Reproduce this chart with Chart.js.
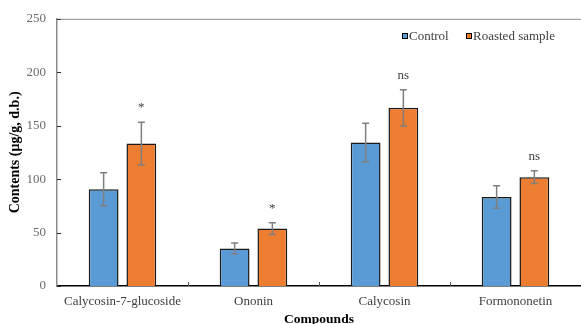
<!DOCTYPE html>
<html><head><meta charset="utf-8">
<script src="https://cdn.jsdelivr.net/npm/chart.js@4/dist/chart.umd.min.js"></script>
<style>html,body{margin:0;padding:0;background:#fff}#w{width:581px;height:324px}</style>
</head><body><div id="w"><canvas id="c"></canvas></div>
<script>
const categories = ['Calycosin-7-glucoside','Ononin','Calycosin','Formononetin'];
const controlValues = [90.5, 35.2, 134.3, 83.3];
const controlErrors = [15.5, 5.0, 18.0, 10.5];
const roastedValues = [133.3, 53.7, 166.7, 101.8];
const roastedErrors = [20.0, 5.5, 17.0, 6.0];
const roastedMarks = ['*', '*', 'ns', 'ns'];
const yTicks = [0, 50, 100, 150, 200, 250];

const FONT = "'Liberation Serif','Times New Roman',serif";

const errorPlugin = {
  id: 'errs',
  afterDatasetsDraw(chart) {
    const ctx = chart.ctx, y = chart.scales.y;
    const errs = [controlErrors, roastedErrors];
    chart.data.datasets.forEach((ds, di) => {
      const meta = chart.getDatasetMeta(di);
      meta.data.forEach((bar, i) => {
        const v = ds.data[i], e = errs[di][i];
        const yt = y.getPixelForValue(v + e), yb = y.getPixelForValue(v - e);
        ctx.save();
        ctx.strokeStyle = '#7f7f7f'; ctx.lineWidth = 1.5;
        ctx.beginPath();
        ctx.moveTo(bar.x, yt); ctx.lineTo(bar.x, yb);
        ctx.moveTo(bar.x - 3.5, yt); ctx.lineTo(bar.x + 3.5, yt);
        ctx.moveTo(bar.x - 3.5, yb); ctx.lineTo(bar.x + 3.5, yb);
        ctx.stroke();
        if (di === 1) {
          ctx.fillStyle = '#404040';
          ctx.font = '13px ' + FONT;
          ctx.textAlign = 'center'; ctx.textBaseline = 'alphabetic';
          const m = roastedMarks[i];
          ctx.fillText(m, bar.x, yt - (m === '*' ? 11 : 11));
        }
        ctx.restore();
      });
    });
  }
};

const framePlugin = {
  id: 'frame',
  afterDraw(chart) {
    const ctx = chart.ctx, a = chart.chartArea, y = chart.scales.y, x = chart.scales.x;
    ctx.save();
    ctx.strokeStyle = '#8c8c8c'; ctx.lineWidth = 1;
    ctx.beginPath();
    ctx.moveTo(a.left, a.top + 0.5); ctx.lineTo(a.right, a.top + 0.5);
    ctx.stroke();
    ctx.strokeStyle = '#333';
    ctx.beginPath();
    yTicks.forEach(t => {
      const py = Math.round(y.getPixelForValue(t)) + 0.5;
      ctx.moveTo(a.left, py); ctx.lineTo(a.left + 4, py);
    });
    ctx.stroke();
    ctx.strokeStyle = '#555';
    ctx.beginPath();
    for (let i = 1; i < categories.length; i++) {
      const px = Math.round((x.getPixelForValue(i - 1) + x.getPixelForValue(i)) / 2) + 0.5;
      ctx.moveTo(px, a.bottom); ctx.lineTo(px, a.bottom - 4);
    }
    ctx.stroke();
    ctx.font = '13px ' + FONT;
    ctx.textBaseline = 'middle'; ctx.textAlign = 'left';
    const items = [[chart.data.datasets[0], 402], [chart.data.datasets[1], 466]];
    items.forEach(([ds, lx]) => {
      ctx.fillStyle = ds.backgroundColor;
      ctx.fillRect(lx, 33, 6, 6);
      ctx.strokeStyle = '#000'; ctx.lineWidth = 1;
      ctx.strokeRect(lx + 0.5, 33.5, 5, 5);
      ctx.fillStyle = '#404040';
      ctx.fillText(ds.label, lx + 7, 36.5);
    });
    ctx.restore();
  }
};

new Chart(document.getElementById('c'), {
  type: 'bar',
  data: {
    labels: categories,
    datasets: [
      { label: 'Control', data: controlValues, backgroundColor: '#5b9bd5', borderColor: '#1a1a1a', borderWidth: 1.5, borderSkipped: 'bottom', categoryPercentage: 0.576, barPercentage: 0.79 },
      { label: 'Roasted sample', data: roastedValues, backgroundColor: '#ed7d31', borderColor: '#1a1a1a', borderWidth: 1.5, borderSkipped: 'bottom', categoryPercentage: 0.576, barPercentage: 0.79 }
    ]
  },
  options: {
    responsive: true, maintainAspectRatio: false, animation: false,
    layout: { padding: { top: 16, right: 0, bottom: 0, left: 0 } },
    plugins: { legend: { display: false }, tooltip: { enabled: false } },
    scales: {
      x: {
        grid: { display: false, drawTicks: false },
        border: { display: true, color: '#000', width: 1.5 },
        ticks: { color: '#404040', font: { family: FONT, size: 13 }, padding: 8, maxRotation: 0, autoSkip: false },
        title: { display: true, text: 'Compounds', color: '#000', font: { family: FONT, size: 13.5, weight: 'bold' }, padding: { top: 0, bottom: -4 } },
        afterFit(s) { s.height = 38; }
      },
      y: {
        min: 0, max: 250,
        afterBuildTicks(s) { s.ticks = yTicks.map(v => ({ value: v })); },
        grid: { display: false, drawTicks: false },
        border: { display: true, color: '#8c8c8c', width: 1.5 },
        ticks: { color: '#6a6a6a', font: { family: FONT, size: 13 }, padding: 11 },
        title: { display: true, text: 'Contents (μg/g, d.b.)', color: '#000', font: { family: FONT, size: 14, weight: 'bold' }, padding: { top: 7, bottom: 0 } },
        afterFit(s) { s.width = 57; }
      }
    }
  },
  plugins: [errorPlugin, framePlugin]
});
</script>
</body></html>
